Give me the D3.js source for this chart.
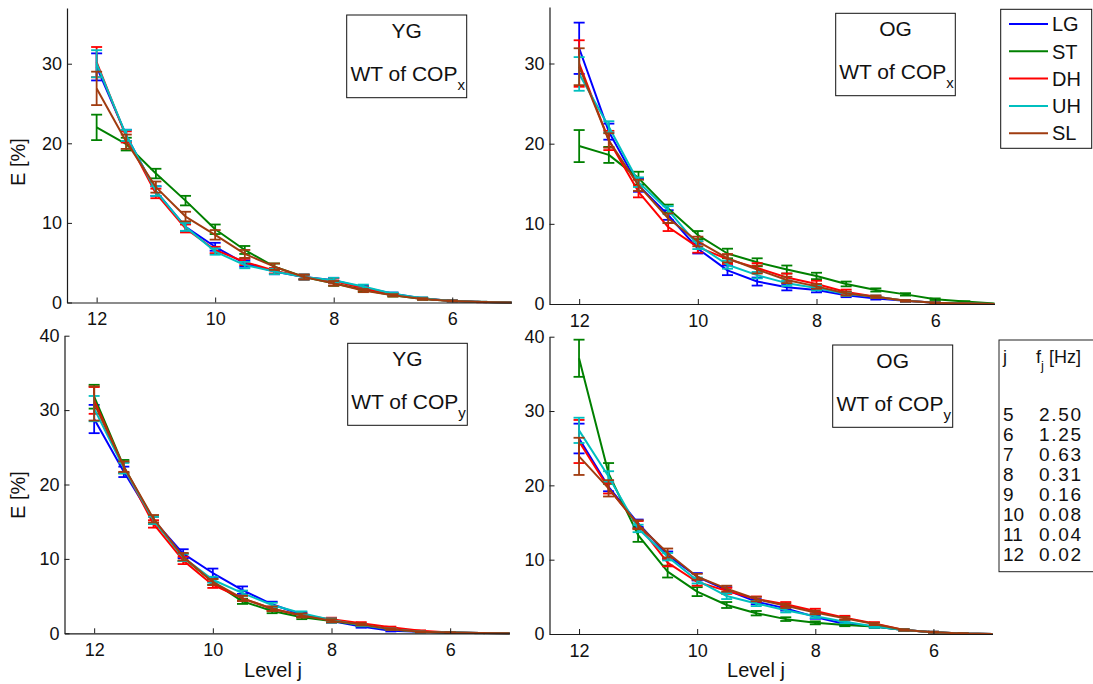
<!DOCTYPE html>
<html>
<head>
<meta charset="utf-8">
<script src="https://cdn.jsdelivr.net/npm/d3@7"></script>
<style>
  html, body { margin: 0; padding: 0; background: #fff; }
  svg { display: block; font-family: "Liberation Sans", Arial, Helvetica, sans-serif; }
</style>
</head>
<body>
<svg id="chart" width="1093" height="684"></svg>
<script>
// ---------------- data ----------------
const levels = [12, 11.5, 11, 10.5, 10, 9.5, 9, 8.5, 8, 7.5, 7, 6.5, 6, 5.5, 5];
const seriesNames = ["LG", "ST", "DH", "UH", "SL"];
const seriesColors = ["#0000ff", "#008000", "#ff0000", "#00bfbf", "#a03c10"];
const xTicks = [12, 10, 8, 6];
const yTicksTop = [0, 10, 20, 30];
const yTicksBottom = [0, 10, 20, 30, 40];

// YG, WT of COPx
const ygX_LG = [29.6, 21.0, 14.0, 9.5, 7.0, 4.9, 3.9, 3.2, 2.8, 1.9, 1.1, 0.5, 0.2, 0.06, 0];
const ygX_LG_err = [1.7, 0.7, 0.6, 0.5, 0.5, 0.4, 0.35, 0.3, 0.3, 0.2, 0.15, 0.1, 0.05, 0.02, 0];
const ygX_ST = [22.0, 19.9, 16.2, 12.8, 9.2, 6.6, 4.5, 3.2, 2.4, 1.6, 0.9, 0.45, 0.2, 0.07, 0];
const ygX_ST_err = [1.6, 0.8, 0.6, 0.6, 0.6, 0.5, 0.4, 0.3, 0.3, 0.2, 0.15, 0.1, 0.05, 0.02, 0];
const ygX_DH = [30.2, 20.8, 13.7, 9.3, 6.6, 5.1, 4.0, 3.2, 2.7, 1.8, 1.0, 0.5, 0.2, 0.06, 0];
const ygX_DH_err = [1.9, 0.7, 0.6, 0.5, 0.4, 0.4, 0.35, 0.3, 0.3, 0.2, 0.15, 0.1, 0.05, 0.02, 0];
const ygX_UH = [30.0, 21.0, 14.0, 9.5, 6.4, 4.7, 3.9, 3.2, 2.8, 2.0, 1.1, 0.55, 0.2, 0.07, 0];
const ygX_UH_err = [1.7, 0.7, 0.6, 0.5, 0.4, 0.4, 0.35, 0.3, 0.3, 0.25, 0.15, 0.1, 0.05, 0.02, 0];
const ygX_SL = [26.9, 20.2, 14.5, 10.8, 8.5, 6.1, 4.5, 3.2, 2.4, 1.5, 0.9, 0.45, 0.2, 0.06, 0];
const ygX_SL_err = [2.1, 0.9, 0.7, 0.6, 0.6, 0.5, 0.4, 0.3, 0.3, 0.2, 0.15, 0.1, 0.05, 0.02, 0];

// OG, WT of COPx
const ogX_LG = [31.9, 21.5, 14.8, 11.1, 6.9, 4.2, 2.8, 2.1, 1.75, 1.1, 0.7, 0.4, 0.15, 0.05, 0];
const ogX_LG_err = [3.2, 1.0, 0.8, 0.6, 0.6, 0.6, 0.5, 0.4, 0.3, 0.25, 0.15, 0.1, 0.05, 0.02, 0];
const ogX_ST = [19.7, 18.6, 15.7, 11.9, 8.6, 6.3, 5.2, 4.3, 3.5, 2.5, 1.75, 1.2, 0.6, 0.3, 0.05];
const ogX_ST_err = [2.0, 1.0, 0.8, 0.5, 0.5, 0.6, 0.5, 0.5, 0.4, 0.3, 0.2, 0.15, 0.1, 0.05, 0];
const ogX_DH = [30.0, 20.4, 14.0, 9.6, 7.1, 5.6, 4.5, 3.3, 2.5, 1.5, 0.9, 0.4, 0.15, 0.05, 0];
const ogX_DH_err = [2.9, 1.2, 0.7, 0.5, 0.7, 0.6, 0.6, 0.5, 0.4, 0.3, 0.15, 0.1, 0.05, 0.02, 0];
const ogX_UH = [28.7, 22.1, 15.2, 11.7, 7.35, 4.9, 3.6, 2.6, 2.0, 1.25, 0.9, 0.4, 0.15, 0.05, 0];
const ogX_UH_err = [2.1, 0.7, 0.6, 0.5, 0.5, 0.5, 0.4, 0.35, 0.3, 0.25, 0.15, 0.1, 0.05, 0.02, 0];
const ogX_SL = [29.6, 20.4, 14.8, 10.7, 7.8, 5.7, 4.3, 3.0, 2.2, 1.3, 0.9, 0.4, 0.15, 0.05, 0];
const ogX_SL_err = [2.3, 0.9, 0.7, 0.6, 0.6, 0.5, 0.5, 0.4, 0.3, 0.25, 0.15, 0.1, 0.05, 0.02, 0];

// YG, WT of COPy
const ygY_LG = [28.8, 21.7, 15.2, 10.7, 8.1, 5.8, 3.9, 2.5, 1.65, 0.9, 0.35, 0.2, 0.1, 0.03, 0];
const ygY_LG_err = [1.9, 0.7, 0.5, 0.6, 0.6, 0.5, 0.35, 0.3, 0.2, 0.15, 0.1, 0.05, 0.03, 0.01, 0];
const ygY_ST = [31.8, 22.4, 15.2, 10.2, 6.9, 4.3, 3.0, 2.15, 1.65, 1.1, 0.55, 0.2, 0.1, 0.03, 0];
const ygY_ST_err = [1.6, 0.9, 0.5, 0.5, 0.4, 0.35, 0.3, 0.25, 0.2, 0.15, 0.1, 0.05, 0.03, 0.01, 0];
const ygY_DH = [31.3, 22.3, 14.7, 9.8, 6.5, 4.7, 3.3, 2.4, 1.9, 1.35, 0.8, 0.35, 0.1, 0.04, 0];
const ygY_DH_err = [1.8, 0.7, 0.5, 0.5, 0.4, 0.35, 0.3, 0.25, 0.2, 0.15, 0.1, 0.05, 0.03, 0.01, 0];
const ygY_UH = [30.2, 22.2, 15.2, 10.2, 7.2, 5.4, 3.8, 2.7, 1.8, 1.1, 0.55, 0.2, 0.1, 0.03, 0];
const ygY_UH_err = [1.7, 0.7, 0.5, 0.5, 0.4, 0.35, 0.3, 0.25, 0.2, 0.15, 0.1, 0.05, 0.03, 0.01, 0];
const ygY_SL = [30.9, 22.4, 15.4, 10.3, 6.9, 4.7, 3.3, 2.4, 1.7, 1.2, 0.55, 0.2, 0.1, 0.03, 0];
const ygY_SL_err = [2.3, 0.7, 0.5, 0.5, 0.4, 0.35, 0.3, 0.25, 0.2, 0.15, 0.1, 0.05, 0.03, 0.01, 0];

// OG, WT of COPy
const ogY_LG = [26.3, 19.8, 14.9, 10.6, 7.7, 5.9, 4.35, 3.45, 2.3, 1.35, 1.0, 0.55, 0.25, 0.08, 0];
const ogY_LG_err = [2.0, 0.6, 0.5, 0.5, 0.5, 0.4, 0.35, 0.3, 0.25, 0.2, 0.15, 0.1, 0.05, 0.02, 0];
const ogY_ST = [37.1, 21.6, 13.3, 8.4, 5.7, 3.9, 2.8, 2.0, 1.5, 1.2, 1.0, 0.55, 0.25, 0.08, 0];
const ogY_ST_err = [2.5, 1.4, 0.9, 0.8, 0.6, 0.4, 0.3, 0.25, 0.2, 0.15, 0.15, 0.1, 0.05, 0.02, 0];
const ogY_DH = [25.9, 19.6, 14.7, 9.6, 7.0, 5.8, 4.7, 4.0, 3.1, 2.2, 1.4, 0.55, 0.25, 0.08, 0];
const ogY_DH_err = [2.9, 0.7, 0.5, 0.5, 0.5, 0.4, 0.35, 0.3, 0.3, 0.25, 0.2, 0.1, 0.05, 0.02, 0];
const ogY_UH = [27.4, 21.2, 14.2, 10.4, 7.2, 5.1, 4.1, 3.2, 2.4, 1.65, 1.0, 0.55, 0.25, 0.08, 0];
const ogY_UH_err = [1.7, 0.7, 0.5, 0.5, 0.4, 0.4, 0.35, 0.3, 0.25, 0.2, 0.15, 0.1, 0.05, 0.02, 0];
const ogY_SL = [23.9, 19.6, 14.7, 10.9, 7.7, 6.1, 4.7, 3.8, 2.9, 2.1, 1.35, 0.55, 0.25, 0.08, 0];
const ogY_SL_err = [2.5, 1.1, 0.6, 0.6, 0.4, 0.4, 0.3, 0.3, 0.25, 0.2, 0.15, 0.1, 0.05, 0.02, 0];

const tableJ = ["5", "6", "7", "8", "9", "10", "11", "12"];
const tableF = ["2.50", "1.25", "0.63", "0.31", "0.16", "0.08", "0.04", "0.02"];

// ---------------- layout ----------------
const panels = [
  { group: "YG", sub: "x", x0: 67, x1: 511.5, yb: 302.5, yt: 8, ymax: 37, yTicks: yTicksTop,
    series: [[ygX_LG, ygX_LG_err], [ygX_ST, ygX_ST_err], [ygX_DH, ygX_DH_err], [ygX_UH, ygX_UH_err], [ygX_SL, ygX_SL_err]],
    box: [346.7, 15, 120, 82.7], ylabel: 162, xlabel: null },
  { group: "OG", sub: "x", x0: 549.5, x1: 994.5, yb: 304, yt: 7, ymax: 37.05, yTicks: yTicksTop,
    series: [[ogX_LG, ogX_LG_err], [ogX_ST, ogX_ST_err], [ogX_DH, ogX_DH_err], [ogX_UH, ogX_UH_err], [ogX_SL, ogX_SL_err]],
    box: [835.7, 13.3, 119.6, 82.4], ylabel: null, xlabel: null },
  { group: "YG", sub: "y", x0: 64.5, x1: 509.5, yb: 633.3, yt: 335.7, ymax: 40, yTicks: yTicksBottom,
    series: [[ygY_LG, ygY_LG_err], [ygY_ST, ygY_ST_err], [ygY_DH, ygY_DH_err], [ygY_UH, ygY_UH_err], [ygY_SL, ygY_SL_err]],
    box: [347.7, 343.3, 119.6, 82], ylabel: 495, xlabel: 273 },
  { group: "OG", sub: "y", x0: 549.5, x1: 992.5, yb: 634, yt: 336.7, ymax: 40, yTicks: yTicksBottom,
    series: [[ogY_LG, ogY_LG_err], [ogY_ST, ogY_ST_err], [ogY_DH, ogY_DH_err], [ogY_UH, ogY_UH_err], [ogY_SL, ogY_SL_err]],
    box: [832.7, 345, 120, 82.3], ylabel: null, xlabel: 756 }
];

const svg = d3.select("#chart");
const axisColor = "#1a1a1a";
const tickFont = 18;

panels.forEach(p => {
  const x = d3.scaleLinear().domain([12.5, 5]).range([p.x0, p.x1]);
  const y = d3.scaleLinear().domain([0, p.ymax]).range([p.yb, p.yt]);
  const g = svg.append("g");

  // series (lines + error bars)
  p.series.forEach(([vals, errs], si) => {
    const color = seriesColors[si];
    const pts = levels.map((l, i) => ({ l, v: vals[i], e: errs[i] }));
    const line = d3.line().x(d => x(d.l)).y(d => y(d.v));
    const sg = g.append("g");
    sg.append("path").datum(pts)
      .attr("d", line).attr("fill", "none")
      .attr("stroke", color).attr("stroke-width", 2).attr("stroke-linejoin", "round");
    const eb = sg.selectAll("g.eb").data(pts.filter(d => d.e > 0)).join("g");
    eb.append("line")
      .attr("x1", d => x(d.l)).attr("x2", d => x(d.l))
      .attr("y1", d => y(d.v - d.e)).attr("y2", d => y(d.v + d.e))
      .attr("stroke", color).attr("stroke-width", 1.8);
    [-1, 1].forEach(s => {
      eb.append("line")
        .attr("x1", d => x(d.l) - 5.5).attr("x2", d => x(d.l) + 5.5)
        .attr("y1", d => y(d.v + s * d.e)).attr("y2", d => y(d.v + s * d.e))
        .attr("stroke", color).attr("stroke-width", 1.8);
    });
  });

  // axes
  const xAxis = d3.axisBottom(x).tickValues(xTicks).tickFormat(d3.format("d"))
    .tickSizeInner(-5).tickSizeOuter(0).tickPadding(10);
  const gx = g.append("g").attr("transform", `translate(0,${p.yb})`).call(xAxis);
  const yAxis = d3.axisLeft(y).tickValues(p.yTicks).tickFormat(d3.format("d"))
    .tickSizeInner(-5).tickSizeOuter(0).tickPadding(5);
  const gy = g.append("g").attr("transform", `translate(${p.x0},0)`).call(yAxis);
  [gx, gy].forEach(a => {
    a.attr("font-family", null).attr("font-size", tickFont);
    a.selectAll("path.domain").attr("stroke", axisColor).attr("stroke-width", 1.2);
    a.selectAll(".tick line").attr("stroke", axisColor).attr("stroke-width", 1);
    a.selectAll(".tick text").attr("fill", "#111");
  });

  // annotation box
  const [bx, by, bw, bh] = p.box;
  g.append("rect").attr("x", bx).attr("y", by).attr("width", bw).attr("height", bh)
    .attr("fill", "#fff").attr("stroke", "#111").attr("stroke-width", 1);
  g.append("text").attr("x", bx + bw / 2).attr("y", by + 22.7)
    .attr("text-anchor", "middle").attr("font-size", 21).attr("fill", "#111").text(p.group);
  const t = g.append("text").attr("x", bx + bw / 2 + 1).attr("y", by + 66)
    .attr("text-anchor", "middle").attr("font-size", 21).attr("fill", "#111");
  t.append("tspan").text("WT of COP");
  t.append("tspan").attr("font-size", 15).attr("dy", 9).text(p.sub);

  if (p.ylabel !== null) {
    svg.append("text").attr("transform", `translate(25,${p.ylabel}) rotate(-90)`)
      .attr("text-anchor", "middle").attr("font-size", 20).attr("fill", "#111").text("E [%]");
  }
  if (p.xlabel !== null) {
    svg.append("text").attr("x", p.xlabel).attr("y", 676.5)
      .attr("text-anchor", "middle").attr("font-size", 20).attr("fill", "#111").text("Level j");
  }
});

// ---------------- legend ----------------
const lg = svg.append("g");
lg.append("rect").attr("x", 1000.7).attr("y", 9.3).attr("width", 91).attr("height", 139)
  .attr("fill", "#fff").attr("stroke", "#111").attr("stroke-width", 1);
seriesNames.forEach((n, i) => {
  const yy = 24 + i * 27.3;
  lg.append("line").attr("x1", 1009).attr("x2", 1048).attr("y1", yy).attr("y2", yy)
    .attr("stroke", seriesColors[i]).attr("stroke-width", 2);
  lg.append("text").attr("x", 1052).attr("y", yy).attr("dy", "0.36em")
    .attr("font-size", 20).attr("fill", "#111").text(n);
});

// ---------------- frequency table ----------------
const tb = svg.append("g");
tb.append("rect").attr("x", 999).attr("y", 340).attr("width", 110).attr("height", 231.7)
  .attr("fill", "#fff").attr("stroke", "#222").attr("stroke-width", 1);
tb.append("text").attr("x", 1003).attr("y", 363).attr("font-size", 18).attr("fill", "#111").text("j");
const hdr = tb.append("text").attr("x", 1036).attr("y", 363).attr("font-size", 18).attr("fill", "#111");
hdr.append("tspan").text("f");
hdr.append("tspan").attr("font-size", 13).attr("dy", 7).text("j");
hdr.append("tspan").attr("dy", -7).text(" [Hz]");
tableJ.forEach((j, i) => {
  const yy = 420.7 + i * 20;
  tb.append("text").attr("x", 1003).attr("y", yy).attr("font-size", 19).attr("fill", "#111").text(j);
  tb.append("text").attr("x", 1039).attr("y", yy)
    .attr("font-size", 19).attr("textLength", 42).attr("lengthAdjust", "spacing")
    .attr("fill", "#111").text(tableF[i]);
});
</script>
</body>
</html>
